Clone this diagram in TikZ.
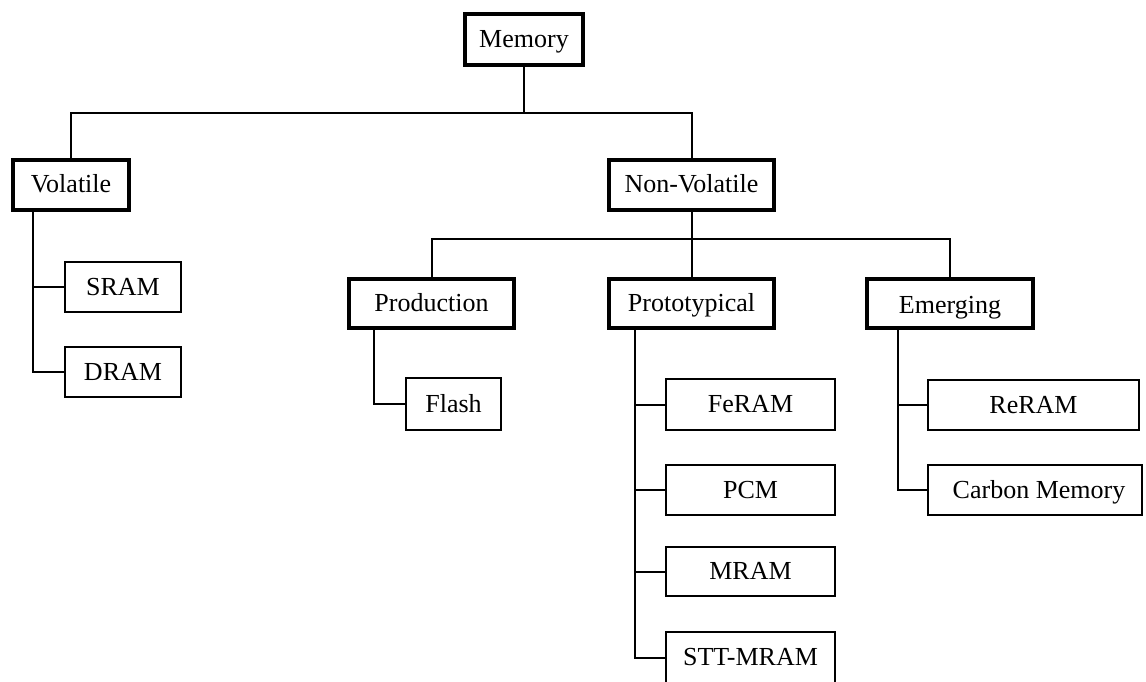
\documentclass[tikz,border=0pt]{standalone}
\usepackage{fontspec}
\setmainfont{Liberation Serif}
\begin{document}
\begin{tikzpicture}[x=1pt,y=-1pt,
  every node/.style={font=\fontsize{26}{30}\selectfont, inner sep=0pt, outer sep=0pt,
    text height=17pt, text depth=1pt},
  thickbox/.style={draw, line width=4pt, minimum width=#1, fill=white},
  thinbox/.style={draw, line width=2pt, minimum width=#1, fill=white},
  conn/.style={line width=2pt}]
\useasboundingbox (0,0) rectangle (1146,682);
% level 0
\node[thickbox=118pt, minimum height=51pt] (mem) at (524,39.5) {Memory};
% level 1
\node[thickbox=116pt, minimum height=50pt] (vol) at (71,185) {Volatile};
\node[thickbox=165pt, minimum height=50pt] (nv) at (691.5,185) {Non-Volatile};
% level 2
\node[thickbox=165pt, minimum height=49pt] (prod) at (431.5,303.5) {Production};
\node[thickbox=165pt, minimum height=49pt] (proto) at (691.5,303.5) {Prototypical};
\node[thickbox=166pt, minimum height=49pt, text height=19pt, text depth=0pt] (emer) at (950,303.5) {Emerging};
% leaves
\node[thinbox=116pt, minimum height=50pt] (sram) at (123,287) {SRAM};
\node[thinbox=116pt, minimum height=50pt] (dram) at (123,372) {DRAM};
\node[thinbox=95pt, minimum height=52pt] (flash) at (453.5,404) {Flash};
\node[thinbox=169pt, minimum height=51pt] (feram) at (750.5,404.5) {FeRAM};
\node[thinbox=169pt, minimum height=50pt] (pcm) at (750.5,490) {PCM};
\node[thinbox=169pt, minimum height=49pt] (mram) at (750.5,571.5) {MRAM};
\node[thinbox=169pt, minimum height=51pt] (stt) at (750.5,657.5) {STT-MRAM};
\node[thinbox=211pt, minimum height=50pt] (reram) at (1033.5,405) {ReRAM};
\node[thinbox=214pt, minimum height=50pt] (carbon) at (1035,490) {\hspace*{8pt}Carbon Memory};
% bus coordinates
\coordinate (bus1) at (524,113);
\coordinate (bus2) at (691.5,239);
\coordinate (tv) at (33,210);
\coordinate (tp) at (374,328);
\coordinate (tq) at (635,328);
\coordinate (te) at (898,328);
% connectors
\begin{scope}[conn]
\draw (mem.south) -- (bus1);
\draw (vol.north) |- (bus1) -| (nv.north);
\draw (nv.south) -- (bus2) -- (proto.north);
\draw (prod.north) |- (bus2) -| (emer.north);
\draw (tv) |- (dram.west);
\draw (sram.west) -- (sram.west -| tv);
\draw (tp) |- (flash.west);
\draw (tq) |- (stt.west);
\draw (feram.west) -- (feram.west -| tq);
\draw (pcm.west) -- (pcm.west -| tq);
\draw (mram.west) -- (mram.west -| tq);
\draw (te) |- (carbon.west);
\draw (reram.west) -- (reram.west -| te);
\end{scope}
\end{tikzpicture}
\end{document}
